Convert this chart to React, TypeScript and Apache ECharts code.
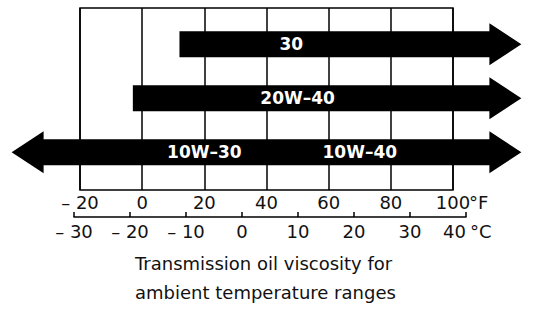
import React, { useEffect, useRef } from "react";
import * as echarts from "echarts";

// Temperature ticks
const fTicks = { min: -20, max: 100, step: 20 };
const cTicks = { min: -30, max: 40, step: 10 };

// Viscosity arrows (°F) — row 0 = bottom
const arrowRows = [0, 1, 2];
const arrowStart = [-42, -3, 12];
const arrowEnd = [122, 122, 122];
const arrowLeftHead = [1, 0, 0];

// Arrow labels
const labelText = ["10W–30", "10W–40", "20W–40", "30"];
const labelX = [20, 70, 50, 48];
const labelRow = [0, 0, 1, 2];

const caption = "Transmission oil viscosity for\nambient temperature ranges";

const FONT = "DejaVu Sans";
const fmt = (v: number) => (v < 0 ? "– " + Math.abs(v) : String(v));

export default function App() {
  const ref = useRef<HTMLDivElement>(null);
  useEffect(() => {
    if (!ref.current) return;
    const chart = echarts.init(ref.current, null, { renderer: "svg" });
    const arrowData = arrowRows.map((r, i) => [arrowStart[i], arrowEnd[i], r, arrowLeftHead[i]]);
    const labelData = labelText.map((t, i) => [labelX[i], labelRow[i], t]);
    chart.setOption({
      animation: false,
      backgroundColor: "#fff",
      title: {
        text: caption,
        left: 130,
        top: 244,
        textStyle: { fontFamily: FONT, fontSize: 18, fontWeight: "normal", color: "#111", lineHeight: 29 },
      },
      grid: [
        { left: 80, right: 88, top: 8, height: 182, show: true, borderColor: "#000", borderWidth: 1.5, backgroundColor: "transparent" },
        { left: 74, right: 75, top: 216, height: 1 },
      ],
      xAxis: [
        {
          type: "value",
          gridIndex: 0,
          min: fTicks.min,
          max: fTicks.max,
          interval: fTicks.step,
          position: "bottom",
          axisLine: { show: false, onZero: false },
          axisTick: { show: false },
          splitLine: { show: true, lineStyle: { color: "#000", width: 1.5 } },
          axisLabel: { margin: 3, fontFamily: FONT, fontSize: 18, color: "#111", formatter: fmt },
          name: "°F",
          nameLocation: "end",
          nameGap: 16,
          nameMoveOverlap: false,
          nameTextStyle: { fontFamily: FONT, fontSize: 18, color: "#111", verticalAlign: "top", padding: [3, 0, 0, 0] },
        },
        {
          type: "value",
          gridIndex: 1,
          min: cTicks.min,
          max: cTicks.max,
          interval: cTicks.step,
          position: "bottom",
          axisLine: { show: true, onZero: false, lineStyle: { color: "#000", width: 1.5 } },
          axisTick: { show: true, inside: true, length: 5, lineStyle: { color: "#000", width: 1.5 } },
          splitLine: { show: false },
          axisLabel: { margin: 5, alignMaxLabel: "right", fontFamily: FONT, fontSize: 18, color: "#111", formatter: fmt },
          name: "°C",
          nameLocation: "end",
          nameGap: 4,
          nameMoveOverlap: false,
          nameTextStyle: { fontFamily: FONT, fontSize: 18, color: "#111", verticalAlign: "top", padding: [5, 0, 0, 0] },
        },
      ],
      yAxis: [
        { type: "value", gridIndex: 0, min: -0.7, max: 2.67, show: false, splitLine: { show: false } },
        { type: "value", gridIndex: 1, show: false, splitLine: { show: false } },
      ],
      series: [
        {
          type: "custom",
          xAxisIndex: 0,
          yAxisIndex: 0,
          clip: false,
          data: arrowData,
          renderItem: (_params: any, api: any) => {
            const p0 = api.coord([api.value(0), api.value(2)]);
            const p1 = api.coord([api.value(1), api.value(2)]);
            const y = p0[1];
            const xl = p0[0];
            const xr = p1[0];
            const bh = 13, hh = 21, hl = 32;
            const pts: number[][] = [];
            pts.push([xr, y], [xr - hl, y - hh], [xr - hl, y - bh]);
            if (api.value(3)) {
              pts.push([xl + hl, y - bh], [xl + hl, y - hh], [xl, y], [xl + hl, y + hh], [xl + hl, y + bh]);
            } else {
              pts.push([xl, y - bh], [xl, y + bh]);
            }
            pts.push([xr - hl, y + bh], [xr - hl, y + hh]);
            return { type: "polygon", shape: { points: pts }, style: { fill: "#000" } };
          },
          z: 5,
        },
        {
          type: "custom",
          xAxisIndex: 0,
          yAxisIndex: 0,
          clip: false,
          data: labelData,
          z: 10,
          renderItem: (params: any, api: any) => {
            const p = api.coord([api.value(0), api.value(1)]);
            return {
              type: "text",
              x: p[0],
              y: p[1],
              style: {
                text: labelData[params.dataIndex][2],
                fill: "#ffffff",
                font: "bold 17px 'DejaVu Sans'",
                align: "center",
                verticalAlign: "middle",
              },
            };
          },
        },
      ],
    });
    return () => chart.dispose();
  }, []);
  return <div ref={ref} style={{ position: "fixed", left: 0, top: 0, width: 541, height: 309 }} />;
}
